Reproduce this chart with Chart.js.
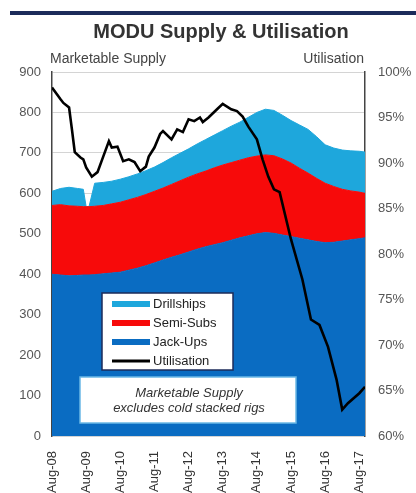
<!DOCTYPE html>
<html>
<head>
<meta charset="utf-8">
<script src="https://cdn.jsdelivr.net/npm/chart.js@4"></script>
<style>
  body { margin: 0; background: #fff; }
  canvas { display: block; }
</style>
</head>
<body>
<canvas id="moduChart" width="416" height="493"></canvas>
<script>
// Months counted from Aug-08
const tickMonths = [0, 12, 24, 36, 48, 60, 72, 84, 96, 108];
const tickLabels = ['Aug-08', 'Aug-09', 'Aug-10', 'Aug-11', 'Aug-12', 'Aug-13', 'Aug-14', 'Aug-15', 'Aug-16', 'Aug-17'];

// Marketable supply (number of rigs)
const supplyMonths = [0,3,6,9,11,12,13,15,18,21,24,27,30,33,36,39,42,45,48,51,54,57,60,63,66,69,72,75,78,81,84,87,90,93,96,99,102,105,108,110];
const jackUps = [400,398,396,397,398,398,398,399,401,403,405,410,415,421,428,435,442,448,455,462,468,473,478,484,490,495,500,503,501,497,493,489,485,481,478,479,482,485,488,490];
const semiSubs = [170,174,173,171,169,169,169,169,169,171,173,174,175,176,177,178,180,183,185,186,187,190,192,192,192,193,192,192,192,188,182,173,165,156,147,138,128,121,115,110];
const drillships = [35,40,46,44,43,0,0,57,57,56,57,57,58,59,60,63,66,68,70,74,78,81,85,90,94,100,108,113,112,108,105,107,108,103,95,95,97,99,101,102];

// Utilisation (%)
const utilMonths = [0,3,4,6,7,8,10,11,12,14,16,18,20,21,23,25,27,29,31,33,34,36,38,39,42,44,46,48,50,52,53,55,58,60,63,65,67,69,72,74,76,78,80,84,88,91,94,97,100,102,104,108,110];
const utilisation = [98.3,97.0,96.6,96.1,93.7,91.2,90.6,90.4,89.5,88.5,89.0,90.7,92.4,91.7,91.8,90.2,90.4,90.1,89.1,89.6,90.7,91.7,93.2,93.5,92.6,93.7,93.4,94.8,94.6,95.0,94.5,95.0,95.9,96.5,95.9,95.7,95.1,94.0,92.6,90.4,88.5,87.1,86.8,81.6,77.2,72.8,72.2,69.8,66.2,62.9,63.6,64.7,65.4];

const legendOrder = ['Drillships', 'Semi-Subs', 'Jack-Ups', 'Utilisation'];
const FONT = '"Liberation Sans", Arial, sans-serif';

function pts(xs, ys){
    return xs.map(function(x, i){ return {x: x, y: ys[i]}; });
}

// title, axis captions, legend box and note box
const decor = {
    id: 'decor',
    afterDraw: function(chart){
        const ctx = chart.ctx;
        const area = chart.chartArea;
        ctx.save();
        // rule at the top
        ctx.fillStyle = '#1c2b5a';
        ctx.fillRect(10, 11, 406, 4);

        ctx.fillStyle = '#333';
        ctx.font = 'bold 20px ' + FONT;
        ctx.textAlign = 'center';
        ctx.textBaseline = 'middle';
        ctx.fillText('MODU Supply & Utilisation', 221, 32);

        ctx.font = '14px ' + FONT;
        ctx.fillStyle = '#444';
        ctx.textAlign = 'left';
        ctx.fillText('Marketable Supply', area.left - 2, 59);
        ctx.textAlign = 'right';
        ctx.fillText('Utilisation', area.right - 1, 59);

        // legend
        ctx.fillStyle = '#fff';
        ctx.fillRect(102, 293, 131, 77);
        ctx.strokeStyle = '#1c2b5a';
        ctx.lineWidth = 1.5;
        ctx.strokeRect(102, 293, 131, 77);
        const rowY = [304, 323, 342, 361];
        legendOrder.forEach(function(name, i){
            const ds = chart.data.datasets.find(function(d){ return d.label === name; });
            ctx.strokeStyle = ds.legendColor;
            ctx.lineWidth = name === 'Utilisation' ? 3 : 6;
            ctx.beginPath();
            ctx.moveTo(112, rowY[i]);
            ctx.lineTo(150, rowY[i]);
            ctx.stroke();
            ctx.fillStyle = '#222';
            ctx.font = '13px ' + FONT;
            ctx.textAlign = 'left';
            ctx.fillText(name, 153, rowY[i]);
        });

        // note
        ctx.fillStyle = '#fff';
        ctx.fillRect(80, 377, 216, 46);
        ctx.strokeStyle = '#6bb8e6';
        ctx.lineWidth = 1.5;
        ctx.strokeRect(80, 377, 216, 46);
        ctx.fillStyle = '#333';
        ctx.font = 'italic 13px ' + FONT;
        ctx.textAlign = 'center';
        ctx.fillText('Marketable Supply', 189, 393);
        ctx.fillText('excludes cold stacked rigs', 189, 408);
        ctx.restore();
    }
};

const ctx = document.getElementById('moduChart').getContext('2d');
const moduChart = new Chart(ctx, {
    type: 'line',
    data: {
        datasets: [
            {
                label: 'Utilisation',
                data: pts(utilMonths, utilisation),
                yAxisID: 'y2',
                borderColor: '#000',
                legendColor: '#000',
                borderWidth: 2.6,
                pointRadius: 0,
                fill: false,
                order: 0
            },
            {
                label: 'Jack-Ups',
                data: pts(supplyMonths, jackUps),
                yAxisID: 'y',
                backgroundColor: '#0a6cc2',
                borderColor: '#0a6cc2',
                legendColor: '#0a6cc2',
                borderWidth: 1,
                pointRadius: 0,
                fill: 'origin',
                order: 1
            },
            {
                label: 'Semi-Subs',
                data: pts(supplyMonths, semiSubs),
                yAxisID: 'y',
                backgroundColor: '#f70a0a',
                borderColor: '#f70a0a',
                legendColor: '#f70a0a',
                borderWidth: 1,
                pointRadius: 0,
                fill: '-1',
                order: 1
            },
            {
                label: 'Drillships',
                data: pts(supplyMonths, drillships),
                yAxisID: 'y',
                backgroundColor: '#1ea7dc',
                borderColor: '#1ea7dc',
                legendColor: '#1ea7dc',
                borderWidth: 1,
                pointRadius: 0,
                fill: '-1',
                order: 1
            }
        ]
    },
    options: {
        responsive: false,
        animation: false,
        layout: { padding: { top: 72, left: 0, right: 0, bottom: 0 } },
        plugins: {
            legend: { display: false },
            title: { display: false },
            tooltip: { enabled: false }
        },
        scales: {
            x: {
                type: 'linear',
                min: 0,
                max: 110,
                afterBuildTicks: function(s){ s.ticks = tickMonths.map(function(v){ return {value: v}; }); },
                afterFit: function(s){ s.height = 57; },
                ticks: {
                    autoSkip: false,
                    minRotation: 90,
                    maxRotation: 90,
                    padding: 7,
                    color: '#333',
                    font: { family: FONT, size: 13 },
                    callback: function(v){ return tickLabels[tickMonths.indexOf(v)]; }
                },
                grid: { display: false },
                border: { display: false }
            },
            y: {
                position: 'left',
                stacked: true,
                min: 0,
                max: 900,
                afterFit: function(s){ s.width = 52; },
                ticks: {
                    stepSize: 100,
                    padding: 11,
                    color: '#555',
                    font: { family: FONT, size: 13 }
                },
                grid: { color: '#d4d4d4', drawTicks: false },
                border: { display: true, color: '#444', width: 1.5 }
            },
            y2: {
                position: 'right',
                min: 60,
                max: 100,
                afterFit: function(s){ s.width = 51; },
                ticks: {
                    stepSize: 5,
                    padding: 13,
                    color: '#555',
                    font: { family: FONT, size: 13 },
                    callback: function(v){ return v + '%'; }
                },
                grid: { display: false, drawTicks: false },
                border: { display: true, color: '#444', width: 1.5 }
            }
        }
    },
    plugins: [decor]
});
</script>
</body>
</html>
